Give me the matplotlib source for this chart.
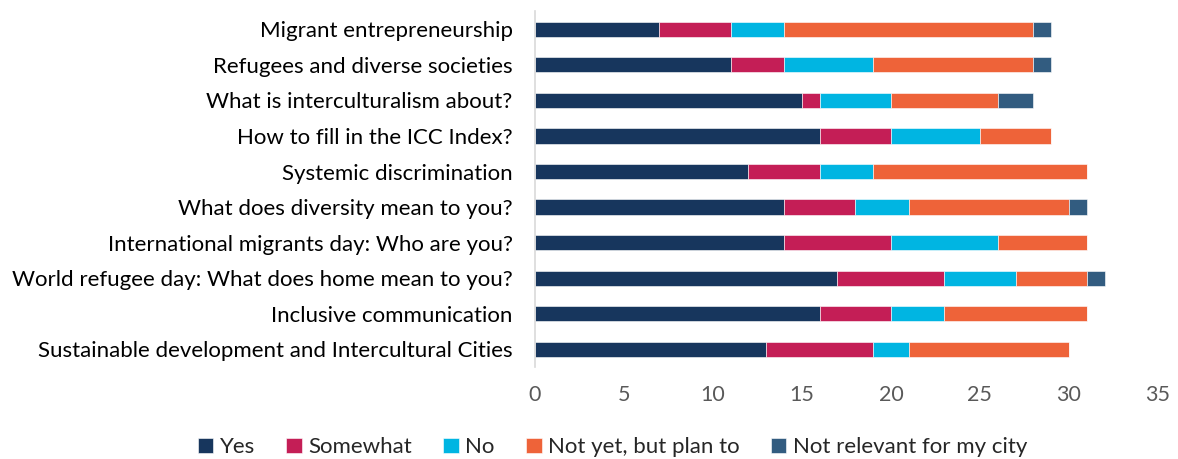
import numpy as np
import matplotlib
matplotlib.use("Agg")
import matplotlib.pyplot as plt

plt.rcParams['font.family'] = ['Lato', 'DejaVu Sans']

# webinar topics, listed bottom to top
topics = ["Sustainable development and Intercultural Cities",
          "Inclusive communication",
          "World refugee day: What does home mean to you?",
          "International migrants day: Who are you?",
          "What does diversity mean to you?",
          "Systemic discrimination",
          "How to fill in the ICC Index?",
          "What is interculturalism about?",
          "Refugees and diverse societies",
          "Migrant entrepreneurship"]

yes = [13, 16, 17, 14, 14, 12, 16, 15, 11, 7]
somewhat = [6, 4, 6, 6, 4, 4, 4, 1, 3, 4]
no = [2, 3, 4, 6, 3, 3, 5, 4, 5, 3]
plan_to = [9, 8, 4, 5, 9, 12, 4, 6, 9, 14]
not_relevant = [0, 0, 1, 0, 1, 0, 0, 2, 1, 1]

series = [("Yes", yes, "#17365d"),
          ("Somewhat", somewhat, "#c41e56"),
          ("No", no, "#00b5e2"),
          ("Not yet, but plan to", plan_to, "#ee6339"),
          ("Not relevant for my city", not_relevant, "#325c80")]

fig = plt.figure(figsize=(11.78, 4.59), dpi=100)
ax = fig.add_axes([0.454, 0.2, 0.529, 0.775])

y = np.arange(len(topics))
left = np.zeros(len(topics))
for name, vals, col in series:
    ax.barh(y, vals, left=left, height=0.43, color=col, label=name,
            edgecolor="white", linewidth=0.4)
    left += np.array(vals)

ax.set_xlim(0, 35)
ax.set_ylim(-0.5, len(topics) - 0.5)
ax.set_xticks(range(0, 36, 5))
ax.set_yticks(y)
ax.set_yticklabels(topics, fontsize=16, color="black")
ax.tick_params(axis="x", length=0, labelsize=15.5, labelcolor="#595959", pad=13)
ax.tick_params(axis="y", length=0, pad=16)

for s in ["top", "right", "bottom"]:
    ax.spines[s].set_visible(False)
ax.spines["left"].set_color("#d9d9d9")
ax.spines["left"].set_linewidth(1.2)

# legend sits along the bottom edge, centred a little right of the figure middle
fig.legend(loc="lower center", bbox_to_anchor=(0.52, -0.025), ncol=5,
           frameon=False, fontsize=16, handlelength=0.7, handleheight=0.7,
           handletextpad=0.3, columnspacing=1.4, labelcolor="#262626",
           borderaxespad=0.2)

fig.savefig("out.png", dpi=100)
